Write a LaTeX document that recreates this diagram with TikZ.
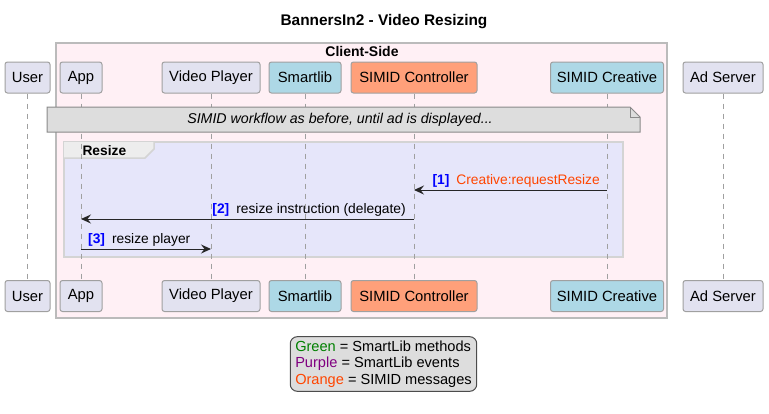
\documentclass[tikz,border=0pt]{standalone}
\usepackage{fontspec}
\setmainfont{Liberation Sans}
\usetikzlibrary{arrows.meta,calc}

\definecolor{partfill}{HTML}{E2E2F0}
\definecolor{partline}{HTML}{A0A0A0}
\definecolor{libblue}{HTML}{ADD8E6}
\definecolor{salmon}{HTML}{FFA07A}
\definecolor{clientfill}{HTML}{FFF0F5}
\definecolor{clientline}{HTML}{BBBBBB}
\definecolor{groupfill}{HTML}{E6E6FA}
\definecolor{groupline}{HTML}{D4D4D4}
\definecolor{notefill}{HTML}{DDDDDD}
\definecolor{noteline}{HTML}{8A8A8A}
\definecolor{numblue}{HTML}{0000FF}
\definecolor{simidorange}{HTML}{FF4500}
\definecolor{libgreen}{HTML}{008000}
\definecolor{libpurple}{HTML}{800080}

\tikzset{
  part/.style={draw=partline, fill=partfill, line width=1pt, rounded corners=2.5pt,
    minimum height=31pt, inner xsep=0pt, font=\fontsize{14.8}{16}\selectfont},
  lifeline/.style={draw=partline, line width=1pt, dash pattern=on 5pt off 5pt},
  msg/.style={draw=black!85, line width=1pt, -{Stealth[length=10pt,width=9pt,inset=3.5pt]}},
  msglabel/.style={font=\fontsize{13.8}{15}\selectfont, inner sep=1pt, anchor=south}
}
\newcommand{\num}[1]{{\color{numblue}\bfseries[#1]}\hspace{7pt}}

\begin{document}
\begin{tikzpicture}[x=1pt, y=-1pt]
    \useasboundingbox (0,0) rectangle (769,413);
    % Title
    \node[font=\bfseries\fontsize{15.4}{17}\selectfont] (title) at (384,22) {BannersIn2 - Video Resizing};
    % Client-Side box
    \draw[draw=clientline, fill=clientfill, line width=1.5pt] (56,43) rectangle (667,318);
    \node[font=\bfseries\fontsize{14}{15}\selectfont] (client) at (362,51) {Client-Side};
    % Resize group
    \draw[draw=groupline, fill=groupfill, line width=1.5pt] (64,142) rectangle (623,257);
    \fill[black!7] (64,142) -- (154,142) -- (154,149) -- (145,158) -- (64,158) -- cycle;
    \draw[draw=groupline, line width=1.5pt] (154,142) -- (154,149) -- (145,158) -- (64,158);
    \node[font=\bfseries\fontsize{13.8}{15}\selectfont, anchor=west] (resize) at (79,151) {Resize};
    % Participants, top and bottom
    \foreach \pos/\y in {t/77.5, b/296} {
      \node[part, minimum width=45pt] (user\pos) at (27.5,\y) {User};
      \node[part, minimum width=42pt] (app\pos) at (81,\y) {App};
      \node[part, minimum width=98pt] (player\pos) at (211,\y) {Video Player};
      \node[part, minimum width=72pt, fill=libblue] (lib\pos) at (305,\y) {Smartlib};
      \node[part, minimum width=126pt, fill=salmon] (ctrl\pos) at (414,\y) {SIMID Controller};
      \node[part, minimum width=113pt, fill=libblue] (crea\pos) at (607,\y) {SIMID Creative};
      \node[part, minimum width=80pt] (ads\pos) at (723,\y) {Ad Server};
    }
    % Lifelines
    \foreach \p in {user, app, player, lib, ctrl, crea, ads}
      \draw[lifeline] (\p t.south) -- (\p b.north);
    % Note
    \draw[draw=noteline, fill=notefill, line width=1pt] (47,107) -- (630,107) -- (640,117) -- (640,132) -- (47,132) -- cycle;
    \draw[draw=noteline, line width=1pt] (630,107) -- (630,117) -- (640,117);
    \node[font=\itshape\fontsize{14.2}{15}\selectfont] (note) at (340,120) {SIMID workflow as before, until ad is displayed...};
    % Messages
    \draw[msg] (creat |- 0,190) -- (ctrlt |- 0,190);
    \node[msglabel, anchor=south east] (m1) at ($(creat |- 0,190)+(-6,-1)$) {\num{1}{\color{simidorange}Creative:requestResize}};
    \draw[msg] (ctrlt |- 0,219) -- (appt |- 0,219);
    \node[msglabel, anchor=south east] (m2) at ($(ctrlt |- 0,219)+(-7,-1)$) {\num{2}resize instruction (delegate)};
    \draw[msg] (appt |- 0,249) -- (playert |- 0,249);
    \node[msglabel, anchor=south west] (m3) at ($(appt |- 0,249)+(6,-1)$) {\num{3}resize player};
    % Legend
    \node[draw=black!70, fill=notefill, line width=1pt, rounded corners=7pt, align=left,
      inner xsep=5pt, inner ysep=4pt, font=\fontsize{14.6}{16.5}\selectfont] (legend) at (383.5,364)
      {{\color{libgreen}Green} = SmartLib methods\\
       {\color{libpurple}Purple} = SmartLib events\\
       {\color{simidorange}Orange} = SIMID messages};
\end{tikzpicture}
\end{document}
